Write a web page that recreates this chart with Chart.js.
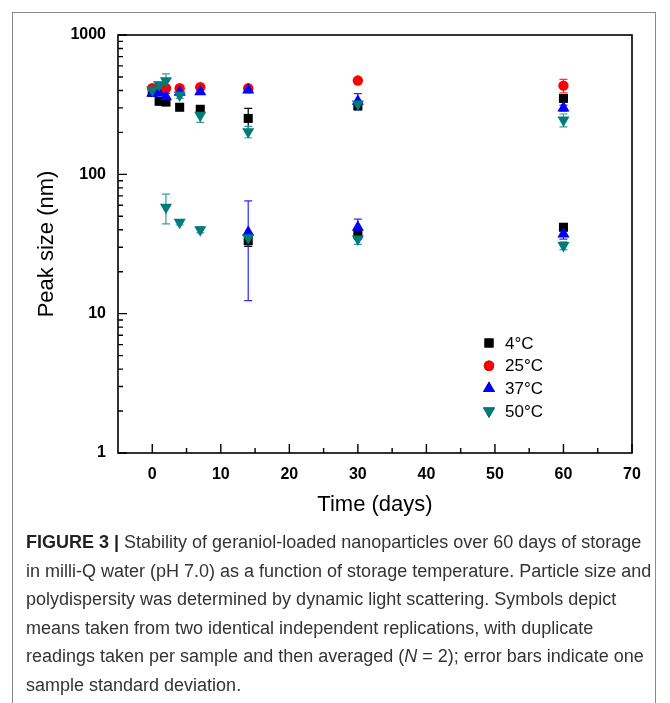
<!DOCTYPE html>
<html>
<head>
<meta charset="utf-8">
<script src="https://cdn.jsdelivr.net/npm/chart.js@4.4.1/dist/chart.umd.min.js"></script>
<style>
  html, body { margin: 0; padding: 0; background: #fff; }
  #page { position: relative; width: 670px; height: 703px; overflow: hidden; }
  #frame { position: absolute; left: 12px; top: 12px; width: 644px; height: 700px;
           border: 1.5px solid #8a8a8a; box-sizing: border-box; }
  #wrap { position: absolute; left: 0; top: 0; width: 670px; height: 530px; }
  #caption { position: absolute; left: 26px; top: 528px; width: 630px;
             font-family: "Liberation Sans Narrow", "Liberation Sans", Arial, sans-serif;
             font-size: 18px; line-height: 28.6px; color: #333; }
  #caption div { white-space: nowrap; }
  #caption b { color: #222; }
</style>
</head>
<body>
<div id="page">
  <div id="frame"></div>
  <div id="wrap"><canvas id="sizeChart"></canvas></div>
  <div id="caption">
    <div><b>FIGURE 3 |</b> Stability of geraniol-loaded nanoparticles over 60 days of storage</div>
    <div>in milli-Q water (pH 7.0) as a function of storage temperature. Particle size and</div>
    <div>polydispersity was determined by dynamic light scattering. Symbols depict</div>
    <div>means taken from two identical independent replications, with duplicate</div>
    <div>readings taken per sample and then averaged (<i>N</i> = 2); error bars indicate one</div>
    <div>sample standard deviation.</div>
  </div>
</div>
<script>
// ---- data ----
const days = [0, 1, 2, 4, 7, 14, 30, 60];
const seriesLabels = ['4°C', '25°C', '37°C', '50°C'];

// main peak (nm)
const peak4C  = [390, 335, 330, 303, 293, 252, 310, 351];
const peak25C = [415, 405, 415, 415, 422, 415, 471, 433];
const peak37C = [382, 384, 361, 388, 392, 403, 335, 299];
const peak50C = [403, 440, 470, 371, 266, 202, 320, 245];
// standard deviations of the main peak
const sd4C  = [15, 20, 18, 10, 12, 45, 15, 20];
const sd25C = [15, 10, 15, 10, 10, 10, 10, 48];
const sd37C = [20, 15, 20, 15, 15, 15, 45, 15];
const sd50C = [20, 20, 56, 20, 30, 19, 15, 26];

// second (small) peak (nm)
const small4C  = [null, null, null, null, null, 33.4, 37.3, 41.7];
const small37C = [null, null, null, null, null, 38.4, 41.7, 37.3];
const small50C = [null, null, 58.1, 45.3, 40.0, 35.0, 34.4, 30.8];
const smallSd4C  = [0, 0, 0, 0, 0, 3, 3, 2];
const smallSd37C = [0, 0, 0, 0, 0, 26, 6, 3];
const smallSd50C = [0, 0, 14, 2, 2, 3, 3, 2];

const xTicks = [0, 10, 20, 30, 40, 50, 60, 70];
const yTicks = [1, 10, 100, 1000];

// ---- helpers ----
function buildPoints(main, mainSd, small, smallSd) {
    const pts = [];
    main.forEach((v, i) => { if (v != null) pts.push({ x: days[i], y: v, sd: mainSd[i] }); });
    if (small) small.forEach((v, i) => { if (v != null) pts.push({ x: days[i], y: v, sd: smallSd[i] }); });
    return pts;
}

const styles = [
    { color: '#000000', bar: '#000000', pointStyle: 'rect', radius: 6.4, rotation: 0 },
    { color: '#ff0000', bar: '#ff3030', pointStyle: 'circle', radius: 5.2, rotation: 0 },
    { color: '#0000ff', bar: '#2a2aff', pointStyle: 'triangle', radius: 7, rotation: 0 },
    { color: '#007b7b', bar: '#3a9c9c', pointStyle: 'triangle', radius: 7, rotation: 180 }
];

const pointSets = [
    buildPoints(peak4C, sd4C, small4C, smallSd4C),
    buildPoints(peak25C, sd25C, null, null),
    buildPoints(peak37C, sd37C, small37C, smallSd37C),
    buildPoints(peak50C, sd50C, small50C, smallSd50C)
];

// error bars, drawn under the symbols
const errorBars = {
    id: 'errorBars',
    beforeDatasetsDraw(chart) {
        const ctx = chart.ctx;
        const y = chart.scales.y;
        ctx.save();
        chart.data.datasets.forEach((ds, di) => {
            const meta = chart.getDatasetMeta(di);
            ctx.strokeStyle = styles[di].bar;
            ctx.lineWidth = 1.2;
            ds.data.forEach((p, i) => {
                if (!p.sd) return;
                const el = meta.data[i];
                const top = y.getPixelForValue(p.y + p.sd);
                const bot = y.getPixelForValue(Math.max(p.y - p.sd, 1));
                ctx.beginPath();
                ctx.moveTo(el.x, top); ctx.lineTo(el.x, bot);
                ctx.moveTo(el.x - 4, top); ctx.lineTo(el.x + 4, top);
                ctx.moveTo(el.x - 4, bot); ctx.lineTo(el.x + 4, bot);
                ctx.stroke();
            });
        });
        ctx.restore();
    }
};

// box frame, inward ticks and the legend
const frameAndLegend = {
    id: 'frameAndLegend',
    afterDraw(chart) {
        const ctx = chart.ctx;
        const a = chart.chartArea;
        const xs = chart.scales.x, ys = chart.scales.y;
        ctx.save();
        ctx.strokeStyle = '#000';
        ctx.lineWidth = 1.6;
        ctx.strokeRect(a.left, a.top, a.right - a.left, a.bottom - a.top);

        ctx.lineWidth = 1.4;
        ctx.beginPath();
        for (let v = 0; v <= 70; v += 5) {
            const px = xs.getPixelForValue(v);
            const len = v % 10 === 0 ? 9 : 5;
            ctx.moveTo(px, a.bottom); ctx.lineTo(px, a.bottom - len);
        }
        for (let d = 1; d < 1000; d *= 10) {
            for (let m = 1; m <= 10; m++) {
                const py = ys.getPixelForValue(d * m);
                const len = m === 1 || m === 10 ? 9 : 5;
                ctx.moveTo(a.left, py); ctx.lineTo(a.left + len, py);
            }
        }
        ctx.stroke();

        // legend
        const lx = 489, ly0 = 343, step = 22.7;
        ctx.font = '17px "Liberation Sans", Arial, sans-serif';
        ctx.textBaseline = 'middle';
        ctx.fillStyle = '#000';
        styles.forEach((s, i) => {
            const yy = ly0 + i * step;
            Chart.helpers.drawPoint(ctx, { pointStyle: s.pointStyle, radius: s.radius, rotation: s.rotation, borderWidth: 0 }, lx, yy);
            ctx.fillStyle = s.color;
            ctx.fill();
            ctx.fillStyle = '#000';
            ctx.fillText(seriesLabels[i], 505, yy + 1);
        });
        ctx.restore();
    }
};

document.addEventListener('DOMContentLoaded', function () {
    const canvas = document.getElementById('sizeChart');
    canvas.width = 670; canvas.height = 530;

    new Chart(canvas.getContext('2d'), {
        type: 'scatter',
        data: {
            datasets: pointSets.map((pts, i) => ({
                label: seriesLabels[i],
                data: pts,
                pointStyle: styles[i].pointStyle,
                pointRadius: styles[i].radius,
                pointRotation: styles[i].rotation,
                backgroundColor: styles[i].color,
                borderColor: styles[i].color,
                pointBorderWidth: 0,
                order: 3 - i
            }))
        },
        options: {
            responsive: false,
            animation: false,
            devicePixelRatio: 1,
            layout: { padding: { left: 0, right: 38, top: 35, bottom: 0 } },
            plugins: { legend: { display: false }, tooltip: { enabled: false } },
            scales: {
                x: {
                    type: 'linear', min: -5, max: 70,
                    afterBuildTicks: s => { s.ticks = xTicks.map(v => ({ value: v })); },
                    afterFit: s => { s.height = 77; },
                    grid: { display: false, drawTicks: false },
                    border: { display: false },
                    ticks: { padding: 12, color: '#000', font: { family: '"Liberation Sans", Arial', size: 16, weight: 'bold' } },
                    title: { display: true, text: 'Time (days)', color: '#000', padding: { top: 0, bottom: 12 },
                             font: { family: '"Liberation Sans", Arial', size: 22 } }
                },
                y: {
                    type: 'logarithmic', min: 1, max: 1000,
                    afterBuildTicks: s => { s.ticks = yTicks.map(v => ({ value: v })); },
                    afterFit: s => { s.width = 118; },
                    grid: { display: false, drawTicks: false },
                    border: { display: false },
                    ticks: { padding: 12, color: '#000', callback: v => String(v),
                             font: { family: '"Liberation Sans", Arial', size: 16, weight: 'bold' } },
                    title: { display: true, text: 'Peak size (nm)', color: '#000', padding: { top: 34, bottom: 0 },
                             font: { family: '"Liberation Sans", Arial', size: 22 } }
                }
            }
        },
        plugins: [errorBars, frameAndLegend]
    });
});
</script>
</body>
</html>
